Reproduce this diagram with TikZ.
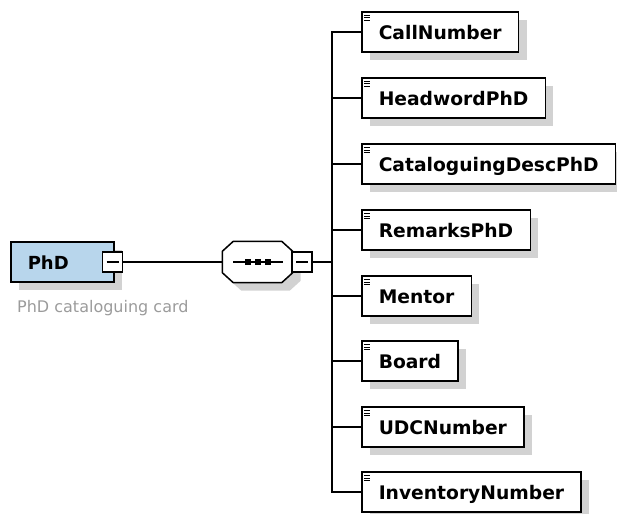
\documentclass[tikz,border=0pt]{standalone}
\usepackage{fontspec}
\setmainfont{DejaVu Sans}
\usepackage{tikz}
\usetikzlibrary{shadows}
\definecolor{phdblue}{RGB}{184,214,236}
\definecolor{shadowgrey}{RGB}{210,210,210}
\definecolor{captiongrey}{RGB}{155,155,155}
\tikzstyle{plate} = [general shadow={shadow xshift=8pt, shadow yshift=-8pt, fill=shadowgrey}]
\tikzstyle{element} = [rectangle, anchor=west, minimum height=40pt, inner xsep=17pt, text height=15pt, text depth=0pt, draw=black, line width=1.5pt, fill=white, plate, font=\fontsize{18.7}{20}\selectfont\bfseries, path picture={\foreach \d in {3.5,6,8.5} \draw[line width=1pt] ([shift={(2.5pt,-\d pt)}]path picture bounding box.north west) -- ++(6pt,0pt);}]
\tikzstyle{root} = [rectangle, anchor=west, minimum height=40pt, inner xsep=17pt, text width=69pt, align=left, text height=15pt, text depth=0pt, draw=black, line width=1.5pt, fill=phdblue, plate, font=\fontsize{18}{20}\selectfont\bfseries]
\tikzstyle{collapse} = [rectangle, minimum width=20pt, minimum height=20pt, inner sep=0pt, draw=black, line width=1.5pt, fill=white, path picture={\draw[line width=1.5pt] ([xshift=4pt]path picture bounding box.west) -- ([xshift=-4pt]path picture bounding box.east);}]
\tikzstyle{link} = [line width=1.5pt, black]

\begin{document}
\begin{tikzpicture}[x=1pt, y=-1pt]
	\useasboundingbox (0,0) rectangle (617,513);
	\node (phd) [root] at (10,262) {PhD};
	\node (phdminus) [collapse] at (112.5,262) {};
	\node (caption) [anchor=base west, inner sep=0pt, text=captiongrey, font=\fontsize{16}{18}\selectfont] at (17,312) {PhD cataloguing card};
	
	\node (seq) [rectangle, minimum width=70pt, minimum height=41pt, inner sep=0pt] at (257.5,262) {};
	\draw [link, fill=white, plate] ([xshift=11pt]seq.north west) -- ([xshift=-11pt]seq.north east) -- ([yshift=-10pt]seq.north east) -- ([yshift=10pt]seq.south east) -- ([xshift=-11pt]seq.south east) -- ([xshift=11pt]seq.south west) -- ([yshift=10pt]seq.south west) -- ([yshift=-10pt]seq.north west) -- cycle;
	\draw [link] ([xshift=-24.5pt]seq.center) -- ([xshift=25.5pt]seq.center);
	\foreach \dx in {-10,0,10}
		\fill ([xshift=\dx pt]seq.center) +(-3,-3) rectangle +(3,3);
	\node (seqminus) [collapse] at (302,262) {};
	\coordinate (fork) at (332,262);
	
	\node (callnum) [element] at (361,32) {CallNumber};
	\node (headword) [element] at (361,98) {HeadwordPhD};
	\node (catdesc) [element] at (361,164) {CataloguingDescPhD};
	\node (remarks) [element] at (361,230) {RemarksPhD};
	\node (mentor) [element] at (361,296) {Mentor};
	\node (board) [element] at (361,361) {Board};
	\node (udc) [element] at (361,427) {UDCNumber};
	\node (inventory) [element] at (361,492) {InventoryNumber};
	
	\draw [link] (phdminus) -- (seq.west);
	\draw [link] (seqminus) -- (fork);
	\draw [link] (fork) |- (callnum.west);
	\draw [link] (fork) |- (headword.west);
	\draw [link] (fork) |- (catdesc.west);
	\draw [link] (fork) |- (remarks.west);
	\draw [link] (fork) |- (mentor.west);
	\draw [link] (fork) |- (board.west);
	\draw [link] (fork) |- (udc.west);
	\draw [link] (fork) |- (inventory.west);
\end{tikzpicture}
\end{document}
